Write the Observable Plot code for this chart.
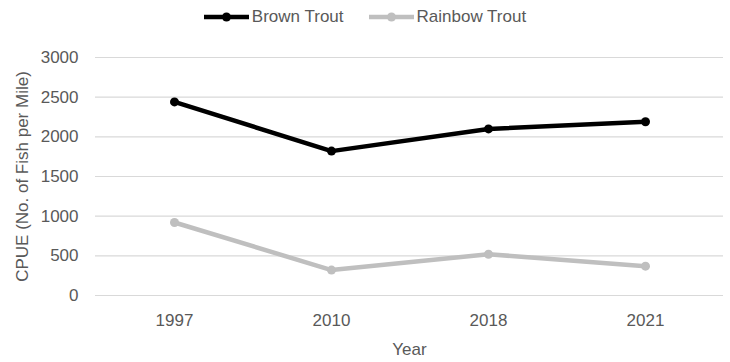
<!DOCTYPE html>
<html>
<head>
<meta charset="utf-8">
<script src="https://cdn.jsdelivr.net/npm/d3@7"></script>
<script src="https://cdn.jsdelivr.net/npm/@observablehq/plot@0.6"></script>
<style>
  html, body { margin: 0; padding: 0; background: #ffffff; }
  #chart { width: 730px; font-family: "Liberation Sans", Arial, sans-serif; color: #595959; }
  #legend { height: 34px; display: flex; justify-content: center; align-items: center; gap: 25px; font-size: 17px; }
  .item { display: flex; align-items: center; }
  .item span { margin-left: 3px; }
  #chart svg { display: block; }
</style>
</head>
<body>
<div id="chart">
  <div id="legend"></div>
</div>
<script>
// Survey years and CPUE (fish per mile) for each species
const years = ["1997", "2010", "2018", "2021"];
const brownTrout = [2440, 1820, 2100, 2190];
const rainbowTrout = [920, 320, 520, 370];

const seriesNames = ["Brown Trout", "Rainbow Trout"];
const seriesColors = ["#000000", "#bfbfbf"];
const yTicks = [0, 500, 1000, 1500, 2000, 2500, 3000];
const yTitle = "CPUE (No. of Fish per Mile)";
const xTitle = "Year";

const seriesValues = [brownTrout, rainbowTrout];
const rows = seriesNames.flatMap((name, s) =>
  years.map((year, i) => ({series: name, year, value: seriesValues[s][i]}))
);

// Legend: line swatch with a marker, then the series name
const legend = document.getElementById("legend");
seriesNames.forEach((name, s) => {
  const item = document.createElement("div");
  item.className = "item";
  item.innerHTML =
    `<svg width="45" height="12"><line x1="0" x2="45" y1="6" y2="6" stroke="${seriesColors[s]}" stroke-width="4.5"/>` +
    `<circle cx="22.5" cy="6" r="4.5" fill="${seriesColors[s]}"/></svg><span>${name}</span>`;
  legend.appendChild(item);
});

const chart = Plot.plot({
  width: 730,
  height: 328,
  marginTop: 23,
  marginBottom: 67,
  marginLeft: 95,
  marginRight: 7,
  style: {fontFamily: "'Liberation Sans', Arial, sans-serif", fontSize: "17px", color: "#595959", background: "#ffffff"},
  x: {type: "point", domain: years, padding: 0.5},
  y: {domain: [0, 3000]},
  color: {domain: seriesNames, range: seriesColors},
  marks: [
    Plot.ruleY(yTicks, {stroke: "#d9d9d9", strokeWidth: 1.2}),
    Plot.axisY({ticks: yTicks, tickFormat: d3.format("d"), tickSize: 0, tickPadding: 17, label: null}),
    Plot.axisX({tickSize: 0, tickPadding: 18, label: null}),
    Plot.line(rows, {x: "year", y: "value", z: "series", stroke: "series", strokeWidth: 4.5}),
    Plot.dot(rows, {x: "year", y: "value", fill: "series", r: 4.5}),
    Plot.text([xTitle], {frameAnchor: "bottom", lineAnchor: "top", dy: 47, fill: "#595959"}),
    Plot.text([yTitle], {frameAnchor: "left", textAnchor: "middle", dx: -73, rotate: -90, fill: "#595959"})
  ]
});
document.getElementById("chart").appendChild(chart);
</script>
</body>
</html>
